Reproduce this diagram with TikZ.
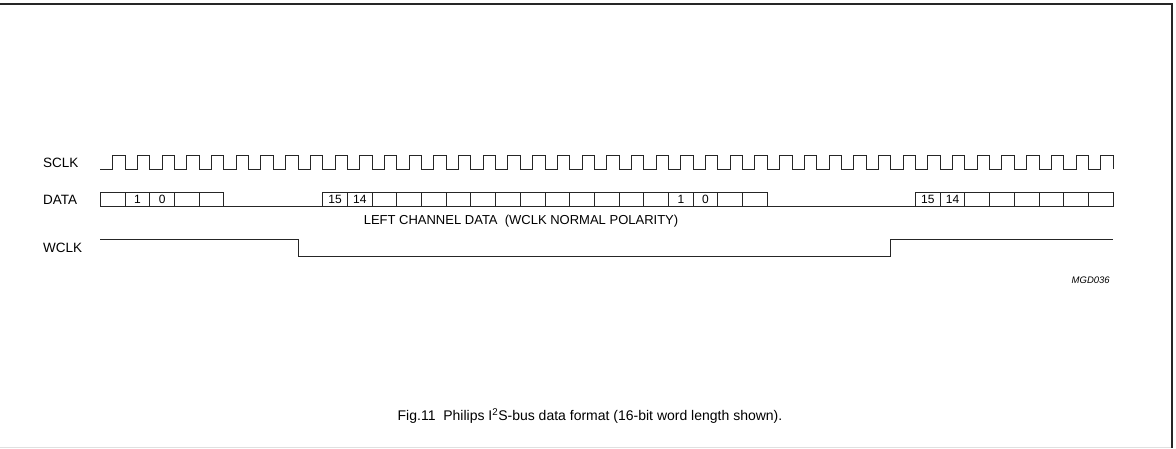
\documentclass[tikz,border=0pt]{standalone}
\usepackage{fontspec}
\setmainfont{Liberation Sans}
\usetikzlibrary{positioning,calc}

\begin{document}
\begin{tikzpicture}[x=1pt,y=-1pt,
    sig/.style={line width=1pt, black!85},
    lbl/.style={anchor=west, inner sep=0pt, font=\fontsize{13.5}{15}\selectfont},
    bit/.style={inner sep=0pt, font=\fontsize{12}{13}\selectfont}]
    \useasboundingbox (0,0) rectangle (1176,448);
    \pgfmathsetmacro{\tz}{322.7} % start of MSB
    \pgfmathsetmacro{\bw}{24.7}  % one bit

    % frame
    \draw[line width=2pt, black!85] (0,4.3) -- (1172,4.3) -- (1172,448);
    \draw[line width=1pt, black!12] (0,447.5) -- (1171,447.5);

    % signal names
    \node[lbl] (sclk) at (43,163) {SCLK};
    \node[lbl] (data) at (43,200) {DATA};
    \node[lbl] (wclk) at (43,248) {WCLK};

    % SCLK
    \draw[sig] ({\tz-9*\bw},169) \foreach \k in {-9,...,31} {
        -- ({\tz+(\k+0.5)*\bw},169) -- ++(0,-14) -- ({\tz+(\k+1)*\bw},155) -- ++(0,14)};

    % DATA cells
    \foreach \k in {-9,...,-5} {
        \draw[sig] ({\tz+\k*\bw},192.5) rectangle ({\tz+(\k+1)*\bw},206.5);
    }
    \foreach \k in {0,...,17} {
        \draw[sig] ({\tz+\k*\bw},192.5) rectangle ({\tz+(\k+1)*\bw},206.5);
    }
    \foreach \k in {24,...,31} {
        \draw[sig] ({\tz+\k*\bw},192.5) rectangle ({\tz+(\k+1)*\bw},206.5);
    }
    \draw[sig] ({\tz-5*\bw},206.5) -- (\tz,206.5);
    \draw[sig] ({\tz+18*\bw},206.5) -- ({\tz+24*\bw},206.5);
    \foreach \k/\b in {-8/1,-7/0,0/15,1/14,14/1,15/0,24/15,25/14} {
        \node[bit] (bit\k) at ({\tz+(\k+0.5)*\bw},199.6) {\b};
    }
    \node[font=\fontsize{13}{14}\selectfont] (chan) at (521,220.7) {LEFT CHANNEL DATA\ \ (WCLK NORMAL POLARITY)};

    % WCLK
    \draw[sig] ({\tz-9*\bw},239.5) -- ({\tz-\bw},239.5) -- ({\tz-\bw},256)
        -- ({\tz+23*\bw},256) -- ({\tz+23*\bw},239.5) -- ({\tz+32*\bw},239.5);

    \node[font=\itshape\fontsize{9.5}{11}\selectfont] (code) at (1090.7,280.7) {MGD036};
    \node[font=\fontsize{14}{16}\selectfont] (caption) at (590,416)
        {Fig.11\ \ Philips I\textsuperscript{2}S-bus data format (16-bit word length shown).};
\end{tikzpicture}
\end{document}
